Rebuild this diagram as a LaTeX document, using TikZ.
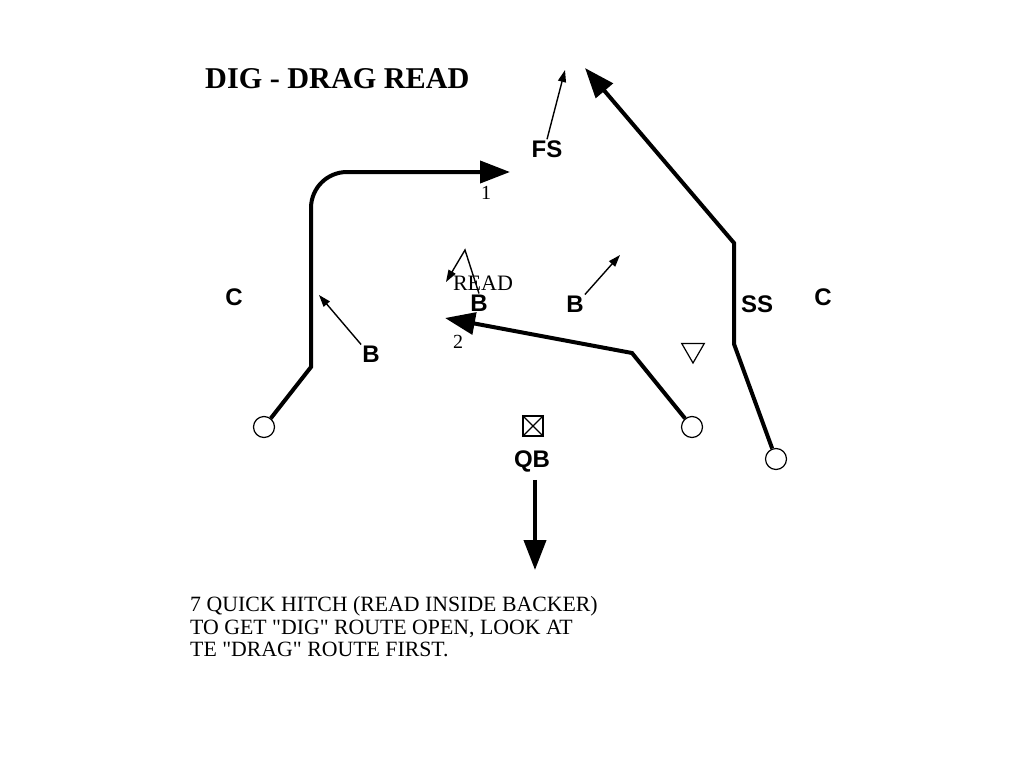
\documentclass[tikz,border=0pt]{standalone}
\usepackage{fontspec}
\setmainfont{Liberation Serif}
\setsansfont{Liberation Sans}
\usetikzlibrary{arrows.meta,shapes.geometric}
\tikzset{
  route/.style={line width=4pt, -{Triangle[length=30pt,width=22pt]}},
  readarrow/.style={line width=1.4pt, -{Triangle[length=12pt,width=8pt]}},
  player/.style={circle, draw, line width=1.2pt, minimum size=21pt, inner sep=0pt},
  defender/.style={font=\sffamily\bfseries\fontsize{24}{28}\selectfont, inner sep=1pt},
  tag/.style={font=\fontsize{20}{24}\selectfont, inner sep=0pt},
}
\begin{document}
\begin{tikzpicture}[x=1pt, y=-1pt]
    \fill[white] (0,0) rectangle (1024,768);
    \useasboundingbox (0,0) rectangle (1024,768);
    \node[anchor=base west, inner sep=0pt, font=\bfseries\fontsize{30.2}{34}\selectfont] (title) at (205,88) {DIG - DRAG READ};
    % offense
    \node[player] (lwr) at (264,427) {};
    \node[player] (te) at (692,427) {};
    \node[player] (rwr) at (776,459) {};
    \node[draw, line width=1.2pt, minimum size=20pt, inner sep=0pt] (qbx) at (533,426) {};
    \draw[line width=1.2pt] (qbx.north west) -- (qbx.south east) (qbx.north east) -- (qbx.south west);
    \node[defender] (qb) at (532,461) {QB};
    % defense
    \node[regular polygon, regular polygon sides=3, shape border rotate=180, draw, line width=1.2pt, minimum size=26pt, inner sep=0pt] (lb) at (693,350) {};
    \node[defender] (fs) at (547,149) {FS};
    \node[defender] (cl) at (234,297) {C};
    \node[defender] (bl) at (371,354) {B};
    \node[defender] (bm) at (479,303) {B};
    \node[defender] (br) at (575,304) {B};
    \node[defender] (ss) at (757,304) {SS};
    \node[defender] (cr) at (823,297) {C};
    \node[tag, font=\fontsize{22}{26}\selectfont] (read) at (483,283) {READ};
    \node[tag] (n1) at (486,193) {1};
    \node[tag] (n2) at (458,342) {2};
    % route points
    \coordinate (dig1) at (311,367);
    \coordinate (dig2) at (311,208);
    \coordinate (dig3) at (510,172);
    \coordinate (drag1) at (632,353);
    \coordinate (drag2) at (445,318);
    \coordinate (post1) at (734,344);
    \coordinate (post2) at (734,243);
    \coordinate (post3) at (585,68);
    \coordinate (qbend) at (535,570);
    \coordinate (fstip) at (565,70);
    \coordinate (bltip) at (319,295);
    \coordinate (brtip) at (620,255);
    \coordinate (hitch) at (465,250);
    \coordinate (hitchtip) at (446,282);
    % routes
    \draw[route] (lwr) -- (dig1) -- (dig2) arc[start angle=180, end angle=270, radius=36] -- (dig3);
    \draw[route] (te) -- (drag1) -- (drag2);
    \draw[route] (rwr) -- (post1) -- (post2) -- (post3);
    \draw[route] ([shift={(3,7)}]qb.south) -- (qbend);
    % defender reads
    \draw[readarrow] (fs.north) -- (fstip);
    \draw[readarrow] (bl.north west) -- (bltip);
    \draw[readarrow] (br.north east) -- (brtip);
    \draw[readarrow] (bm.north) -- (hitch) -- (hitchtip);
    % note
    \node[anchor=north west, inner sep=0pt, align=left, font=\fontsize{21.8}{22.8}\selectfont] (note) at (190,596)
      {7 QUICK HITCH (READ INSIDE BACKER)\\TO GET \textquotedbl DIG\textquotedbl{} ROUTE OPEN, LOOK AT\\TE \textquotedbl DRAG\textquotedbl{} ROUTE FIRST.};
\end{tikzpicture}
\end{document}
